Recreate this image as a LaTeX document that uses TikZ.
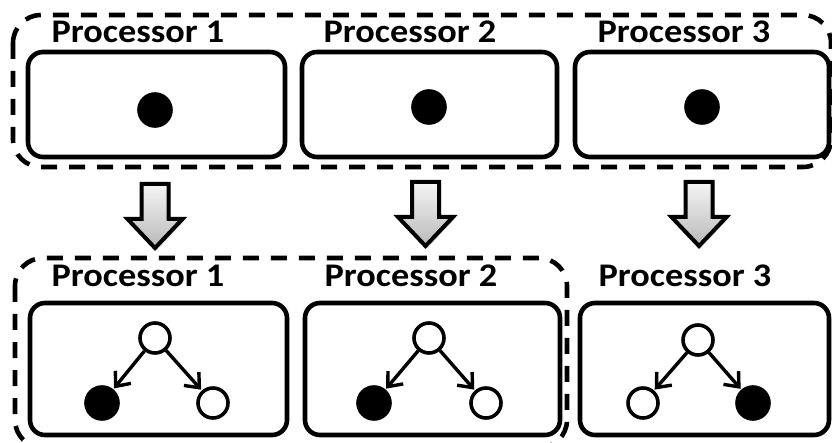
\documentclass[tikz,border=0pt]{standalone}
\usepackage{fontspec}
\usepackage{graphicx}
\setmainfont{Carlito}
\usetikzlibrary{arrows.meta,shadows}

\tikzset{
  procbox/.style={draw, line width=4.6pt, rounded corners=15pt, fill=white,
    minimum height=105pt, inner sep=0pt},
  lowbox/.style={procbox, minimum height=132pt},
  group/.style={draw, line width=4.6pt, dash pattern=on 16pt off 12pt,
    rounded corners=28pt},
  proclabel/.style={anchor=base, inner sep=0pt,
    font=\fontsize{33}{33}\selectfont\bfseries},
  item/.style={circle, draw, line width=3.6pt, inner sep=0pt, minimum size=30pt},
  full/.style={item, fill=black, minimum size=32pt},
  empty/.style={item, fill=white},
  treeedge/.style={line width=3.4pt,
    -{Straight Barb[length=12pt,width=20pt,line width=3.4pt]}, shorten >=1pt},
  bigarrow/.pic={
    \draw[line width=4pt, miter limit=10, top color=gray!8, bottom color=gray!55,
      drop shadow={opacity=0.25, shadow xshift=2pt, shadow yshift=-2pt}]
      (-13.5,0) -- (13.5,0) -- (13.5,35) -- (27.5,35) -- (0,64)
      -- (-27.5,35) -- (-13.5,35) -- cycle;
  }
}

\newcommand{\plabel}[1]{\scalebox{1.1}[1]{Processor #1}}

\begin{document}
\begin{tikzpicture}[x=1pt,y=-1pt]
\useasboundingbox (0,0) rectangle (832,443);
\clip (0,0) rectangle (832,443);

% dashed groupings
\draw[group] (13,15) rectangle (831,167);
\draw[group] (15,258) rectangle (567,448);

% upper row: one item per processor
\node[procbox, minimum width=257pt] (t1) at (156.5,104.5) {};
\node[procbox, minimum width=255pt] (t2) at (429.5,104.5) {};
\node[procbox, minimum width=254pt] (t3) at (702,104.5) {};
\node[full] (d1) at (155,110) {};
\node[full] (d2) at (429,107) {};
\node[full] (d3) at (702,107) {};
\node[proclabel] (lt1) at (138,43) {\plabel{1}};
\node[proclabel] (lt2) at (410,43) {\plabel{2}};
\node[proclabel] (lt3) at (684,43) {\plabel{3}};

% transition arrows
\pic at (155,184) {bigarrow};
\pic at (425.5,182) {bigarrow};
\pic at (699,182) {bigarrow};

% lower row: expanded trees
\node[lowbox, minimum width=257pt] (b1) at (158.5,369) {};
\node[lowbox, minimum width=255pt] (b2) at (432.5,369) {};
\node[lowbox, minimum width=249pt] (b3) at (704.5,369) {};
\node[proclabel] (lb1) at (138,287) {\plabel{1}};
\node[proclabel] (lb2) at (411,287) {\plabel{2}};
\node[proclabel] (lb3) at (685,287) {\plabel{3}};

\node[empty] (r1) at (155,338) {};
\node[full]  (l1) at (102,403) {};
\node[empty] (s1) at (213,403) {};
\draw[treeedge] (r1) -- (l1);
\draw[treeedge] (r1) -- (s1);

\node[empty] (r2) at (429,338) {};
\node[full]  (l2) at (374,403) {};
\node[empty] (s2) at (486,403) {};
\draw[treeedge] (r2) -- (l2);
\draw[treeedge] (r2) -- (s2);

\node[empty] (r3) at (698,340) {};
\node[empty] (l3) at (643,403) {};
\node[full]  (s3) at (753,403) {};
\draw[treeedge] (r3) -- (l3);
\draw[treeedge] (r3) -- (s3);
\end{tikzpicture}
\end{document}
